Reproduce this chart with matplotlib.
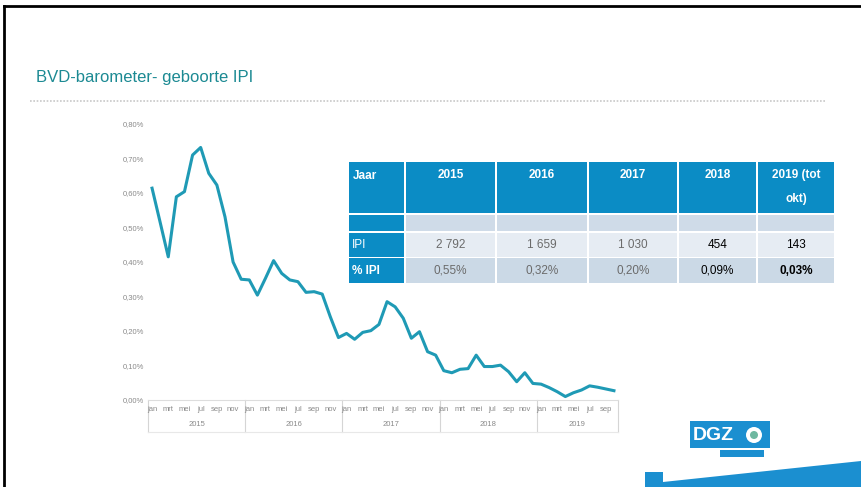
import numpy as np
import matplotlib.pyplot as plt
from matplotlib.patches import Rectangle, Polygon, Ellipse

# maandelijkse % IPI geboortes, jan 2015 - okt 2019
v2015 = [0.614, 0.515, 0.415, 0.589, 0.604, 0.710, 0.732, 0.657, 0.623, 0.531, 0.400, 0.350]
v2016 = [0.348, 0.304, 0.353, 0.404, 0.367, 0.348, 0.343, 0.312, 0.314, 0.307, 0.241, 0.181]
v2017 = [0.193, 0.176, 0.196, 0.201, 0.219, 0.285, 0.270, 0.237, 0.179, 0.198, 0.140, 0.130]
v2018 = [0.085, 0.079, 0.089, 0.091, 0.130, 0.097, 0.097, 0.101, 0.082, 0.053, 0.079, 0.048]
v2019 = [0.046, 0.036, 0.024, 0.010, 0.021, 0.029, 0.041, 0.037, 0.032, 0.027]
years = ["2015", "2016", "2017", "2018", "2019"]
months = ["jan", "feb", "mrt", "apr", "mei", "jun", "jul", "aug", "sep", "okt", "nov", "dec"]

# tabel
tab_header = ["Jaar", "2015", "2016", "2017", "2018", "2019 (tot\nokt)"]
tab_ipi = ["IPI", "2 792", "1 659", "1 030", "454", "143"]
tab_pct = ["% IPI", "0,55%", "0,32%", "0,20%", "0,09%", "0,03%"]

values = np.array(v2015 + v2016 + v2017 + v2018 + v2019)
n = len(values)
x = np.arange(n)

W, H = 861, 487
plt.rcParams['font.family'] = ['Liberation Sans', 'DejaVu Sans']
fig = plt.figure(figsize=(W / 100, H / 100), dpi=100)


def fx(px):
    return px / W


def fy(py):
    return 1 - py / H


# slide rand
fig.add_artist(plt.Line2D([fx(4), 1], [fy(6), fy(6)], color="black", lw=2))
fig.add_artist(plt.Line2D([fx(4), fx(4)], [fy(6), 0], color="black", lw=2))

fig.text(fx(36), fy(77), "BVD-barometer- geboorte IPI", color="#1c8a93",
         fontsize=12, va="center", ha="left")
fig.add_artist(plt.Line2D([fx(30), fx(826)], [fy(101), fy(101)], color="#c8c8c8",
                          lw=1.2, ls=(0, (1, 1))))

# grafiek
ax = fig.add_axes([fx(148), fy(400), fx(618) - fx(148), fy(124) - fy(400)])
ax.plot(x, values, color="#1f9ab5", lw=2.2, solid_joinstyle="round")
ax.set_xlim(-0.5, n - 0.5)
ax.set_ylim(0, 0.8)
ax.set_yticks(np.arange(0, 0.81, 0.1))
ax.set_yticklabels([("%.2f%%" % t).replace(".", ",") for t in np.arange(0, 0.81, 0.1)],
                   fontsize=5.5, color="#8a8a8a")
ax.tick_params(axis="y", length=0, pad=3)
ax.set_xticks(x[::2])
ax.set_xticklabels([months[i % 12] for i in x[::2]], fontsize=5.5, color="#8a8a8a")
ax.tick_params(axis="x", length=0, pad=4)
for s in ["top", "right", "left"]:
    ax.spines[s].set_visible(False)
ax.spines["bottom"].set_color("#dddddd")
ax.spines["bottom"].set_linewidth(0.8)

# jaren onder de as met scheidingslijnen
tr = ax.get_xaxis_transform()
bounds = [-0.5, 11.5, 23.5, 35.5, 47.5, n - 0.5]
for b in bounds:
    ax.plot([b, b], [0, -0.115], transform=tr, color="#d5d5d5", lw=0.8, clip_on=False,
            zorder=0.5)
ax.plot([bounds[0], bounds[-1]], [-0.115, -0.115], transform=tr, color="#e8e8e8",
        lw=0.8, clip_on=False, zorder=0.5)
for i, yr in enumerate(years):
    ax.text((bounds[i] + bounds[i + 1]) / 2, -0.087, yr, transform=tr, ha="center",
            va="center", fontsize=5.5, color="#8a8a8a")

# tabel
col_edges = [348, 405, 496, 588, 678, 757, 835]
row_edges = [(162, 213), (215, 231), (233, 257), (258, 283)]
blue = "#0b8cc5"
row_bg = ["#0b8cc5", "#cfdbe8", "#e6ecf3", "#cbd9e6"]
for r, (t, b) in enumerate(row_edges):
    for c in range(len(col_edges) - 1):
        l, rr = col_edges[c] + 1, col_edges[c + 1] - 1
        col = blue if (c == 0 or r == 0) else row_bg[r]
        fig.add_artist(Rectangle((fx(l), fy(b)), fx(rr) - fx(l), fy(t) - fy(b),
                                 facecolor=col, edgecolor="none"))

for c, lab in enumerate(tab_header):
    l, rr = col_edges[c], col_edges[c + 1]
    if c == 0:
        fig.text(fx(l + 5), fy(176), lab, color="white", fontsize=8.5, fontweight="bold",
                 ha="left", va="center")
    else:
        fig.text(fx((l + rr) / 2), fy(169), lab, color="white", fontsize=8.5,
                 fontweight="bold", ha="center", va="top", linespacing=2.3)

for r, rowvals in [(2, tab_ipi), (3, tab_pct)]:
    t, b = row_edges[r]
    yc = (t + b) / 2
    for c, lab in enumerate(rowvals):
        l, rr = col_edges[c], col_edges[c + 1]
        if c == 0:
            fig.text(fx(l + 4), fy(yc), lab, color="white", fontsize=8.5,
                     fontweight="bold" if r == 3 else "normal", ha="left", va="center")
        else:
            col = "#6b6b6b" if c <= 3 else "black"
            bold = "bold" if (r == 3 and c == 5) else "normal"
            fig.text(fx((l + rr) / 2), fy(yc), lab, color=col, fontsize=8.5, fontweight=bold,
                     ha="center", va="center")

# logo + blauwe band rechtsonder
fig.add_artist(Rectangle((fx(690), fy(448)), fx(770) - fx(690), fy(421) - fy(448),
                         facecolor="#1b8fd0", edgecolor="none"))
fig.text(fx(693), fy(435), "DGZ", color="white", fontsize=14, fontweight="bold",
         ha="left", va="center")
fig.add_artist(Ellipse((fx(754), fy(435)), fx(16), 16 / H, facecolor="white",
                       edgecolor="none"))
fig.add_artist(Ellipse((fx(754), fy(435)), fx(8), 8 / H, facecolor="#6fb8a0",
                       edgecolor="none"))
fig.add_artist(Rectangle((fx(720), fy(457)), fx(764) - fx(720), fy(450) - fy(457),
                         facecolor="#1b8fd0", edgecolor="none"))
fig.add_artist(Polygon([(fx(645), 0), (fx(645), fy(472)), (fx(663), fy(472)),
                        (fx(663), fy(482)), (1, fy(461)), (1, 0)],
                       closed=True, facecolor="#1b8fd0", edgecolor="none"))

fig.savefig("out.png", dpi=100)
